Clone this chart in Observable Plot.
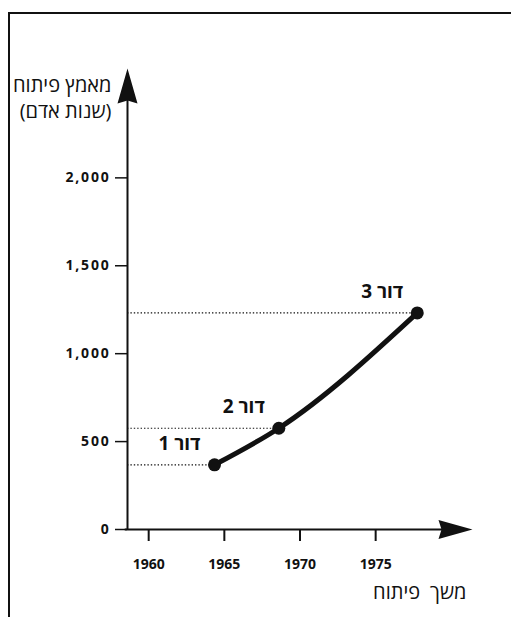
<!DOCTYPE html>
<html><head><meta charset="utf-8">
<script src="https://cdn.jsdelivr.net/npm/d3@7"></script>
<script src="https://cdn.jsdelivr.net/npm/@observablehq/plot@0.6"></script>
<style>
body{margin:0;background:#fff;}
#wrap{position:relative;width:511px;height:617px;overflow:hidden;}
#frame{position:absolute;left:8px;top:12px;width:520px;height:620px;border-left:2px solid #111;border-top:2px solid #111;pointer-events:none;}
g[aria-label="y-axis tick label"] text{letter-spacing:1.8px;}
</style></head><body><div id="wrap"><div id="chart"></div><div id="frame"></div></div>
<script>
// data
const generations = ["דור 1", "דור 2", "דור 3"];
const years = [1964.35, 1968.6, 1977.75];
const effort = [368, 576, 1232];
const yTicks = [0, 500, 1000, 1500, 2000];
const xTicks = [1960, 1965, 1970, 1975];
const yTitle = "מאמץ פיתוח\n(שנות אדם)";
const xTitle = "משך\u2002פיתוח";

const data = generations.map((g, i) => ({gen: g, year: years[i], effort: effort[i]}));
const xDomain = [1958.6, 1981.4];
const yDomain = [0, 2622];

const arrowUp = {draw(ctx){ ctx.moveTo(0,0); ctx.lineTo(10,35); ctx.lineTo(0,32); ctx.lineTo(-10,35); ctx.closePath(); }};
const arrowRight = {draw(ctx){ ctx.moveTo(0,0); ctx.lineTo(-34,-9.5); ctx.lineTo(-31,0); ctx.lineTo(-34,9.5); ctx.closePath(); }};

const font = "'Open Sans', 'DejaVu Sans', sans-serif";

const chart = Plot.plot({
  width: 511, height: 617,
  marginLeft: 127, marginRight: 39, marginTop: 68, marginBottom: 88,
  x: {domain: xDomain},
  y: {domain: yDomain},
  style: {fontFamily: font, color: "#111", background: "transparent"},
  marks: [
    Plot.ruleY(data, {y: "effort", x1: xDomain[0], x2: "year", strokeDasharray: "1.4,2", strokeWidth: 1.2, stroke: "#111"}),
    Plot.ruleX([xDomain[0]], {y1: 0, y2: yDomain[1] - 80, strokeWidth: 2, stroke: "#111"}),
    Plot.ruleY([0], {x1: xDomain[0] - 0.15, x2: xDomain[1] - 1, strokeWidth: 2, stroke: "#111"}),
    Plot.dot([{x: xDomain[0], y: yDomain[1]}], {x: "x", y: "y", symbol: arrowUp, fill: "#111", stroke: "none"}),
    Plot.dot([{x: xDomain[1], y: 0}], {x: "x", y: "y", symbol: arrowRight, fill: "#111", stroke: "none"}),
    Plot.line(data, {x: "year", y: "effort", curve: "monotone-x", strokeWidth: 5, stroke: "#111"}),
    Plot.dot(data, {x: "year", y: "effort", r: 6.5, fill: "#111", stroke: "none"}),
    Plot.text(data, {x: "year", y: "effort", text: "gen", dx: -14, dy: -21, textAnchor: "end", fontSize: 19, fontWeight: "bold", fill: "#111"}),
    Plot.axisY({ticks: yTicks, tickSize: 12, tickPadding: 5, tickFormat: d3.format(","), label: null, fontSize: 14, fontWeight: "bold", strokeWidth: 1.5}),
    Plot.axisX({ticks: xTicks, tickSize: 12, tickPadding: 18, tickFormat: "d", label: null, fontSize: 14, fontWeight: "bold", strokeWidth: 2}),
    Plot.text([yTitle], {x: () => xDomain[0], y: () => yDomain[1], text: d => d, dx: -16, dy: 5, lineAnchor: "top", lineHeight: 1.3, textAnchor: "end", fontSize: 20, fill: "#111"}),
    Plot.text([xTitle], {x: () => xDomain[1], y: () => 0, text: d => d, dx: -6, dy: 63, textAnchor: "end", fontSize: 20, fill: "#111"})
  ]
});
document.getElementById("chart").appendChild(chart);
</script></body></html>
